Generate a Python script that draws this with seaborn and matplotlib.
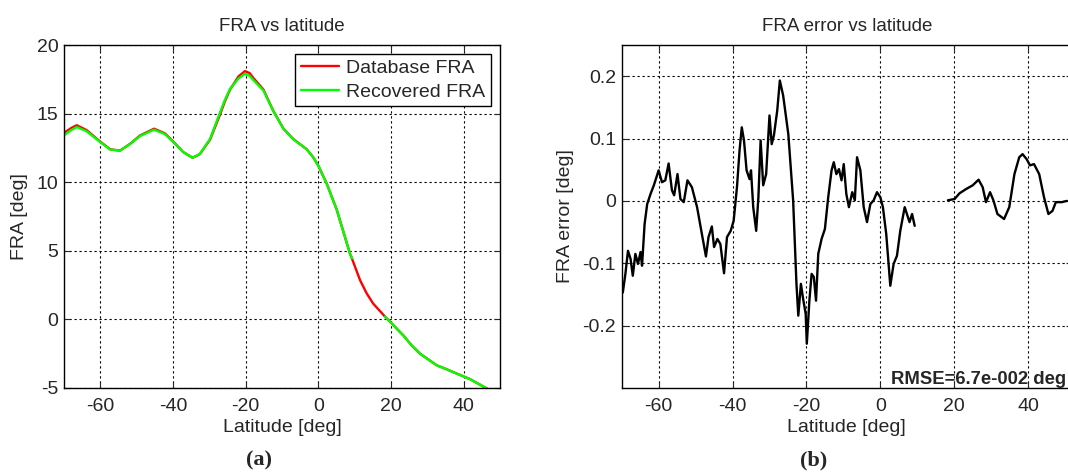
"""
FRA vs latitude (a) and FRA error vs latitude (b), two panels side by side.
"""

import numpy as np
import pandas as pd
import matplotlib

matplotlib.use("Agg")
import matplotlib.pyplot as plt
import seaborn as sns

# Panel (a): FRA curves
latitude = [-70, -68, -66.5, -63.8, -60, -57.3, -54.6, -51.8, -49.1, -45.2, -42.2,
            -39.9, -37.2, -34.6, -32.6, -29.8, -27.1, -25.7, -24.3, -22.0, -20.2, -18.9,
            -17.9, -15.1, -12.4, -9.6, -6.9, -3.2, -1.5, 0, 2.3, 3.6, 5.0, 8.7, 9.3,
            11.5, 13.3, 15.1, 18.3, 19.3, 23.4, 25.7, 28.0, 32.6, 35.0, 37.2, 41.7, 46.5]
database_fra = [13.6, 13.95, 14.15, 13.8, 12.95, 12.4, 12.3, 12.8, 13.4, 13.9, 13.55,
                12.95, 12.2, 11.78, 12.05, 13.1, 14.9, 15.9, 16.75, 17.7, 18.1, 17.95,
                17.6, 16.75, 15.2, 13.9, 13.15, 12.4, 11.85, 11.2, 9.9, 9.0, 8.05, 4.8, 4.4,
                2.85, 1.9, 1.15, 0.22, -0.05, -1.17, -1.9, -2.5, -3.35, -3.6, -3.85, -4.35, -5.05]
recovered_fra = [13.42, 13.8, 14.02, 13.72, 12.92, 12.38, 12.3, 12.78, 13.36, 13.83, 13.5,
                 12.93, 12.2, 11.78, 12.06, 13.15, 15.05, 16.0, 16.8, 17.55, 17.9, 17.75,
                 17.45, 16.68, 15.18, 13.9, 13.13, 12.4, 11.85, 11.2, 9.9, 9.0, 8.05, 4.8, 4.45,
                 np.nan, np.nan, np.nan, 0.2, -0.05, -1.17, -1.9, -2.5, -3.35, -3.6, -3.85, -4.35, -5.05]

# Panel (b): FRA error, gap where no recovered value exists
err_latitude = [-69.7, -69.0, -68.3, -67.6, -67.0, -66.3, -65.6, -64.9, -64.5, -63.8,
                -63.1, -62.2, -61.3, -60.0, -59.1, -58.2, -57.3, -56.4, -55.8, -54.9,
                -54.1, -53.2, -52.2, -51.0, -49.6, -48.3, -47.2, -46.5, -45.6, -45.0,
                -44.1, -43.3, -42.3, -41.5, -40.5, -39.7, -38.8, -38.1, -37.5, -36.9,
                -36.2, -35.4, -35.0, -34.4, -33.6, -33.0, -32.4, -31.7, -30.9, -30.0,
                -29.4, -28.8, -27.9, -27.2, -26.3, -24.9, -23.6, -22.7, -22.2, -21.5,
                -20.9, -20.2, -19.9, -19.2, -18.6, -18.0, -17.4, -16.8, -15.9, -15.0,
                -14.1, -13.2, -12.6, -11.9, -11.2, -10.5, -9.9, -9.2, -8.5, -7.6,
                -6.9, -6.3, -5.4, -4.5, -3.6, -2.7, -1.8, -0.9, 0.0, 0.7,
                1.6, 2.7, 3.6, 4.5, 5.4, 6.6, 7.2, 7.9, 8.6, 9.3,
                13.8,
                18.3, 20.1, 21.4, 23.2, 25.0, 26.6, 27.7, 28.6, 29.7, 30.6,
                31.7, 33.5, 34.9, 36.3, 37.6, 38.5, 39.6, 40.5, 41.6, 43.0,
                44.3, 45.5, 46.6, 47.5, 49.1, 50.5]
fra_error = [-0.147, -0.117, -0.080, -0.093, -0.120, -0.085, -0.101, -0.082, -0.104, -0.037,
             -0.005, 0.011, 0.025, 0.049, 0.030, 0.033, 0.060, 0.017, 0.009, 0.043,
             0.003, -0.002, 0.033, 0.022, -0.010, -0.053, -0.089, -0.058, -0.041, -0.074,
             -0.061, -0.069, -0.116, -0.058, -0.048, -0.032, 0.022, 0.081, 0.118, 0.097,
             0.049, 0.035, 0.049, -0.010, -0.048, 0.006, 0.097, 0.025, 0.043, 0.137,
             0.091, 0.105, 0.145, 0.193, 0.169, 0.107, 0.001, -0.133, -0.184, -0.133,
             -0.157, -0.181, -0.229, -0.160, -0.117, -0.122, -0.160, -0.085, -0.061, -0.045,
             0.006, 0.049, 0.062, 0.043, 0.051, 0.033, 0.059, 0.011, -0.010, 0.014,
             0.001, 0.070, 0.049, -0.010, -0.034, -0.005, 0.001, 0.014, 0.006, -0.010,
             -0.053, -0.136, -0.101, -0.088, -0.048, -0.010, -0.021, -0.034, -0.021, -0.040,
             np.nan,
             0.001, 0.003, 0.012, 0.019, 0.025, 0.034, 0.022, -0.002, 0.014, 0.001,
             -0.021, -0.029, -0.010, 0.043, 0.070, 0.075, 0.067, 0.057, 0.059, 0.043,
             0.006, -0.021, -0.016, -0.002, -0.002, 0.000]

rmse_text = "RMSE=6.7e-002 deg"


def split_segments(x, y, name):
    """Long table with a segment id so gaps (NaN) stay as breaks."""
    df = pd.DataFrame({"lat": x, "val": y})
    df["seg"] = df["val"].isna().cumsum()
    df = df.dropna()
    df["series"] = name
    return df


sns.set_style("ticks")
plt.rcParams["font.family"] = ["Liberation Sans", "DejaVu Sans"]
plt.rcParams["axes.unicode_minus"] = False

fig = plt.figure(figsize=(10.68, 4.75), dpi=100)
W, H = 1068, 475
ax1 = fig.add_axes([64 / W, 1 - 388 / H, 436 / W, 343 / H])
ax2 = fig.add_axes([621.7 / W, 1 - 388 / H, 450 / W, 343 / H])

grid_kw = dict(color="black", linestyle=(0, (2, 2.5)), linewidth=0.8)

# ---- (a) FRA vs latitude
fra_df = pd.concat([
    split_segments(latitude, database_fra, "Database FRA"),
    split_segments(latitude, recovered_fra, "Recovered FRA"),
])
sns.lineplot(data=fra_df, x="lat", y="val", hue="series", units="seg",
             estimator=None, sort=False, ax=ax1,
             palette={"Database FRA": "#ff0000", "Recovered FRA": "#00ff00"},
             linewidth=1.7)
ax1.set_xlim(-70, 50)
ax1.set_ylim(-5, 20)
ax1.set_xticks([-60, -40, -20, 0, 20, 40])
ax1.set_yticks([-5, 0, 5, 10, 15, 20])
ax1.set_title("FRA vs latitude", fontsize=13.5, pad=10)
ax1.set_xlabel("Latitude [deg]", fontsize=14, labelpad=3)
ax1.set_ylabel("FRA [deg]", fontsize=14, labelpad=6)
leg = ax1.legend(loc="upper right", fontsize=14, frameon=True, fancybox=False,
                 edgecolor="black", framealpha=1, borderaxespad=0.45,
                 handlelength=2.0, handletextpad=0.35, borderpad=0.3,
                 labelspacing=0.3)
leg.get_frame().set_linewidth(1.0)
for line in leg.get_lines():
    line.set_linewidth(1.7)

# ---- (b) FRA error vs latitude
err_df = split_segments(err_latitude, fra_error, "error")
sns.lineplot(data=err_df, x="lat", y="val", units="seg", estimator=None,
             sort=False, ax=ax2, color="black", linewidth=1.7)
ax2.set_xlim(-70, 51.8)
ax2.set_ylim(-0.3, 0.25)
ax2.set_xticks([-60, -40, -20, 0, 20, 40])
ax2.set_yticks([-0.2, -0.1, 0, 0.1, 0.2])
ax2.set_yticklabels(["-0.2", "-0.1", "0", "0.1", "0.2"])
ax2.set_title("FRA error vs latitude", fontsize=13.5, pad=10)
ax2.set_xlabel("Latitude [deg]", fontsize=14, labelpad=3)
ax2.set_ylabel("FRA error [deg]", fontsize=14, labelpad=6)
ax2.text(2.8, -0.3, rmse_text, fontsize=13.3, fontweight="bold",
         ha="left", va="bottom")

for ax in (ax1, ax2):
    ax.grid(True, **grid_kw)
    ax.tick_params(direction="in", length=4, labelsize=14, width=0.8,
                   top=True, right=True)
    ax.tick_params(axis="x", pad=7)
    ax.tick_params(axis="y", pad=4)
    for spine in ax.spines.values():
        spine.set_visible(True)
        spine.set_color("black")
        spine.set_linewidth(1.0)

fig.text(258.7 / W, 1 - 460 / H, "(a)", family="Liberation Serif",
         fontweight="bold", fontsize=16, ha="center", va="center")
fig.text(814 / W, 1 - 460 / H, "(b)", family="Liberation Serif",
         fontweight="bold", fontsize=16, ha="center", va="center")

fig.savefig("out.png", dpi=100, facecolor="white")
plt.close(fig)
